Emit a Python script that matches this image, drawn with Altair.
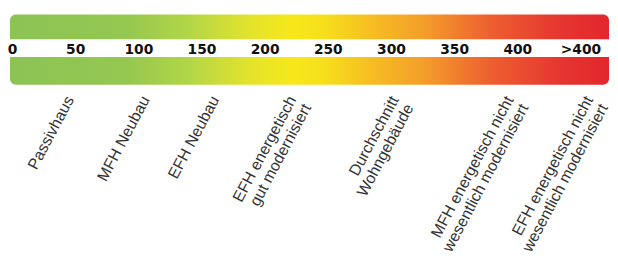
import altair as alt
import pandas as pd

# Scale ticks along the energy band (kWh/m²a)
tick_values = [0, 50, 100, 150, 200, 250, 300, 350, 400, 450]
tick_labels = ["0", "50", "100", "150", "200", "250", "300", "350", "400", ">400"]

# Building categories and where they sit on the scale
building_types = [
    "Passivhaus",
    "MFH Neubau",
    "EFH Neubau",
    "EFH energetisch\ngut modernisiert",
    "Durchschnitt\nWohngebäude",
    "MFH energetisch nicht\nwesentlich modernisiert",
    "EFH energetisch nicht\nwesentlich modernisiert",
]
building_values = [40, 100, 155, 216, 297, 388, 451]

# Colour band stops (offset along band, colour)
stop_offsets = [0.0, 0.2, 0.3, 0.4, 0.47, 0.52, 0.6, 0.69, 0.8, 0.92, 1.0]
stop_colors = ["#8cc355", "#96c850", "#b3d647", "#e3e32c", "#f7e81a",
               "#f7e01c", "#f6bf22", "#f49e2a", "#ee6030", "#e63530", "#e3262c"]

gradient = alt.LinearGradient(
    gradient="linear",
    stops=[alt.GradientStop(color=c, offset=o) for o, c in zip(stop_offsets, stop_colors)],
    x1=0, x2=1, y1=0, y2=0,
)

xscale = alt.Scale(domain=[-3.6, 473], nice=False, zero=False)

dummy = pd.DataFrame({"k": [0]})

top_band = alt.Chart(dummy).mark_rect(
    color=gradient, cornerRadiusTopLeft=6, cornerRadiusTopRight=6
).encode(x=alt.value(2), x2=alt.value(609), y=alt.value(5), y2=alt.value(30))

bottom_band = alt.Chart(dummy).mark_rect(
    color=gradient, cornerRadiusBottomLeft=6, cornerRadiusBottomRight=6
).encode(x=alt.value(2), x2=alt.value(609), y=alt.value(48), y2=alt.value(76))

ticks_df = pd.DataFrame({"pos": tick_values, "label": tick_labels})
tick_text = alt.Chart(ticks_df).mark_text(
    font="DejaVu Sans", fontWeight="bold", fontSize=14, color="#111111",
    baseline="middle", align="center"
).encode(
    x=alt.X("pos:Q", scale=xscale, axis=None),
    y=alt.value(41),
    text="label:N",
)

cats_df = pd.DataFrame({"pos": building_values, "label": building_types})
cat_text = alt.Chart(cats_df).mark_text(
    font="Liberation Sans", fontSize=16, lineHeight=17, color="#333333",
    angle=298, align="right", baseline="top", lineBreak="\n"
).encode(
    x=alt.X("pos:Q", scale=xscale, axis=None),
    y=alt.value(85),
    text="label:N",
)

chart = alt.layer(top_band, bottom_band, tick_text, cat_text).properties(
    width=610, height=248, padding=0, autosize=alt.AutoSizeParams(type="none")
).configure_view(stroke=None)

chart.save("out.html", embed_options={"renderer": "svg", "actions": False})
